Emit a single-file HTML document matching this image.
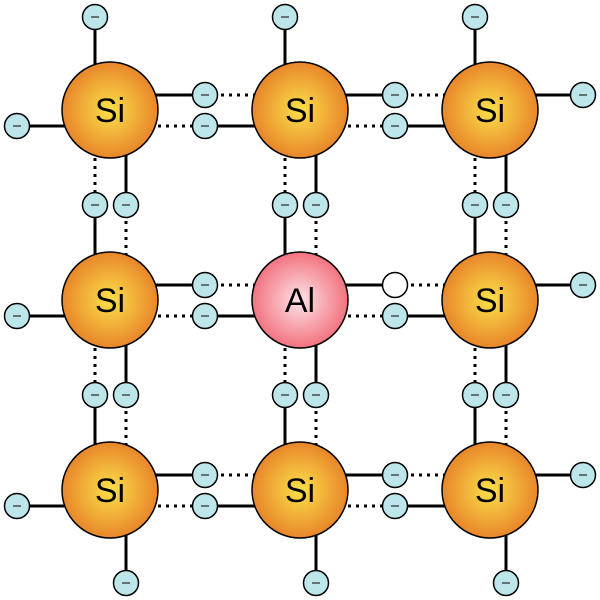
<!DOCTYPE html>
<html><head><style>body{margin:0;background:#fff}svg{display:block}</style></head>
<body>
<svg id="s" width="600" height="600" viewBox="0 0 600 600" xmlns="http://www.w3.org/2000/svg">
<defs>
<radialGradient id="si" cx="50%" cy="50%" r="50%"><stop offset="0" stop-color="#fbe04a"/><stop offset="1" stop-color="#e8862a"/></radialGradient>
<radialGradient id="al" cx="50%" cy="50%" r="50%"><stop offset="0" stop-color="#fde3e8"/><stop offset="1" stop-color="#f2737f"/></radialGradient>
</defs>
<g id="L" stroke="#000" stroke-width="3"></g>
<g id="E"></g>
<g id="A"></g>
</svg>
<script>
var ns="http://www.w3.org/2000/svg",C=[110,300,490],lo=15,hi=16,R=48;
function el(p,t,a){var e=document.createElementNS(ns,t);for(var k in a)e.setAttribute(k,a[k]);p.appendChild(e);return e;}
var L=document.getElementById('L'),E=document.getElementById('E'),A=document.getElementById('A');
function line(x1,y1,x2,y2,d){var a={x1:x1,y1:y1,x2:x2,y2:y2};if(d)a['stroke-dasharray']='3 5';el(L,'line',a);}
function elec(x,y,hole){el(E,'circle',{cx:x,cy:y,r:12.5,fill:hole?'#fff':'#bde6ea',stroke:'#000','stroke-width':1.5});if(!hole)el(E,'line',{x1:x-4,y1:y,x2:x+4,y2:y,stroke:'#333','stroke-width':1.3});}
for(var r=0;r<3;r++)for(var c=0;c<2;c++){var a=C[c],b=C[c+1],m=(a+b)/2,y=C[r];
 line(a,y-lo,m,y-lo,0);line(m,y-lo,b,y-lo,1);line(a,y+hi,m,y+hi,1);line(m,y+hi,b,y+hi,0);
 elec(m,y-lo,r==1&&c==1);elec(m,y+hi);}
for(var c=0;c<3;c++)for(var r=0;r<2;r++){var a=C[r],b=C[r+1],m=(a+b)/2,x=C[c];
 line(x-lo,a,x-lo,m,1);line(x-lo,m,x-lo,b,0);line(x+hi,a,x+hi,m,0);line(x+hi,m,x+hi,b,1);
 elec(x-lo,m);elec(x+hi,m);}
for(var i=0;i<3;i++){
 line(C[i]-lo,C[0],C[i]-lo,17);elec(C[i]-lo,17);
 line(C[i]+hi,C[2],C[i]+hi,583);elec(C[i]+hi,583);
 line(C[0],C[i]+hi,17,C[i]+hi);elec(17,C[i]+hi);
 line(C[2],C[i]-lo,583,C[i]-lo);elec(583,C[i]-lo);}
for(var r=0;r<3;r++)for(var c=0;c<3;c++){var isAl=r==1&&c==1;
 el(A,'circle',{cx:C[c],cy:C[r],r:R,fill:isAl?'url(#al)':'url(#si)',stroke:'#000','stroke-width':1.5});
 var t=el(A,'text',{x:C[c],y:C[r]+12,'text-anchor':'middle','font-family':'Liberation Sans, sans-serif','font-size':34});
 t.textContent=isAl?'Al':'Si';}
</script>
</body></html>
